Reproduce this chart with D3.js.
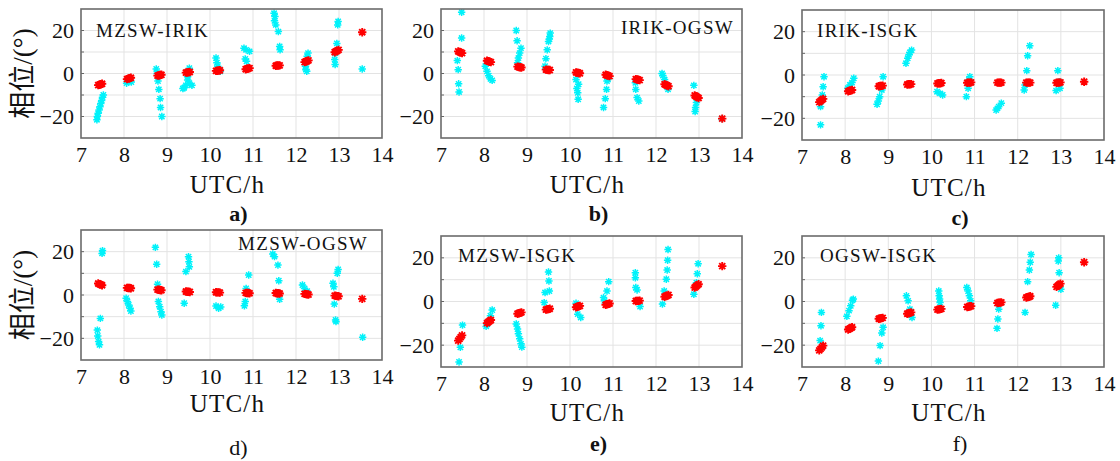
<!DOCTYPE html>
<html>
<head>
<meta charset="utf-8">
<script src="https://cdn.jsdelivr.net/npm/d3@7"></script>
<style>
  html, body { margin: 0; padding: 0; background: #fff; }
  svg { display: block; }
  .tick-label { font-family: "Liberation Serif", serif; font-size: 22px; fill: #111; }
  .axis-title { font-family: "Liberation Serif", serif; font-size: 25px; fill: #111; letter-spacing: 1.2px; }
  .y-title { font-family: "Liberation Serif", "Noto Sans CJK SC", serif; font-size: 27px; fill: #111; }
  .panel-name { font-family: "Liberation Serif", serif; font-size: 19px; fill: #111; letter-spacing: 1.3px; }
  .panel-tag { font-family: "Liberation Serif", serif; font-size: 22px; fill: #111; }
</style>
</head>
<body>
<svg id="chart" width="1120" height="461"></svg>
<script>
// 横轴刻度 / 纵轴刻度
const xTicks = [7, 8, 9, 10, 11, 12, 13, 14];
const yTicks = [-20, 0, 20];
const yGrid = [-30, -20, -10, 0, 10, 20, 30];

// 红色：每个时段的测量时间（六个子图共用）
const redTimes = [
    7.40, 7.43, 7.46, 7.49,
    8.07, 8.10, 8.13, 8.16,
    8.78, 8.81, 8.84, 8.87,
    9.44, 9.47, 9.50, 9.53,
    10.14, 10.17, 10.20, 10.23,
    10.83, 10.86, 10.89, 10.92,
    11.53, 11.56, 11.59, 11.62,
    12.20, 12.23, 12.26, 12.29,
    12.90, 12.93, 12.96, 12.99,
    13.54
];

// 红色相位值
const redA = [-5.4, -5.2, -5.0, -4.8, -2.6, -2.4, -2.2, -2.0, -1.0, -0.9, -0.7, -0.6, 0.4, 0.5, 0.6, 0.7,
    1.2, 1.3, 1.4, 1.5, 2.0, 2.2, 2.3, 2.5, 3.6, 3.7, 3.7, 3.8, 5.3, 5.6, 5.8, 6.1, 9.9, 10.3, 10.6, 11.0, 19.2];
const redB = [10.3, 10.0, 9.8, 9.5, 5.9, 5.7, 5.5, 5.3, 3.2, 3.0, 2.9, 2.8, 1.8, 1.7, 1.6, 1.6,
    0.5, 0.4, 0.2, 0.1, -0.6, -0.8, -1.0, -1.2, -2.6, -2.8, -2.9, -3.1, -5.0, -5.3, -5.6, -5.9, -10.2, -10.6, -11.0, -11.4, -21.0];
const redC = [-12.5, -12.0, -11.5, -11.0, -7.5, -7.3, -7.1, -6.9, -5.2, -5.1, -5.0, -4.9, -4.4, -4.3, -4.3, -4.2,
    -3.9, -3.8, -3.8, -3.7, -3.6, -3.5, -3.5, -3.4, -3.5, -3.5, -3.5, -3.5, -3.5, -3.5, -3.5, -3.5, -3.6, -3.5, -3.5, -3.4, -3.1];
const redD = [5.3, 5.0, 4.8, 4.5, 3.3, 3.2, 3.2, 3.1, 2.5, 2.4, 2.3, 2.2, 1.6, 1.5, 1.5, 1.4,
    1.3, 1.2, 1.2, 1.1, 1.0, 0.9, 0.9, 0.8, 0.9, 0.8, 0.8, 0.7, 0.5, 0.4, 0.3, 0.2, -0.3, -0.4, -0.5, -0.6, -1.8];
const redE = [-17.9, -17.1, -16.3, -15.5, -9.9, -9.4, -8.9, -8.5, -5.6, -5.4, -5.2, -5.0, -3.7, -3.6, -3.5, -3.3,
    -2.6, -2.4, -2.2, -2.0, -1.5, -1.3, -1.1, -0.9, 0.2, 0.3, 0.3, 0.4, 2.2, 2.5, 2.7, 3.0, 6.4, 6.9, 7.4, 7.9, 16.2];
const redF = [-22.4, -21.7, -21.0, -20.2, -12.8, -12.5, -12.1, -11.8, -7.9, -7.8, -7.6, -7.5, -5.6, -5.4, -5.2, -5.0,
    -3.7, -3.6, -3.5, -3.4, -2.5, -2.4, -2.2, -2.1, -0.7, -0.6, -0.5, -0.4, 1.8, 2.0, 2.2, 2.4, 6.7, 7.2, 7.7, 8.2, 18.0];

// 青色：[时间, 相位]
const cyanA = [
    [7.37, -21.5], [7.38, -20], [7.40, -18.5], [7.42, -17], [7.44, -15.5], [7.46, -14], [7.48, -12.5], [7.50, -11], [7.52, -10],
    [8.06, -4.5], [8.10, -3.8], [8.14, -3.2], [8.17, -4.0],
    [8.75, 2.1], [8.77, 0], [8.79, -3.5], [8.81, -7.4], [8.84, -11.7], [8.85, -15.8], [8.88, -20],
    [9.52, 2.5], [9.50, 1], [9.48, -1.5], [9.48, -3], [9.52, -4.5], [9.40, -6.6], [9.37, -7], [9.58, -5.5], [9.44, -5.5],
    [10.14, 7.2], [10.16, 5], [10.18, 3.4], [10.21, 1.8], [10.24, 1],
    [10.79, 11.8], [10.84, 11], [10.92, 10.3], [10.82, 6.8], [10.85, 5.7],
    [11.49, 28], [11.51, 26.5], [11.50, 24.5], [11.53, 22.6], [11.59, 19.5], [11.62, 12.6], [11.63, 11],
    [12.28, 9.5], [12.26, 8], [12.22, 3.4], [12.23, 1.8], [12.25, 1],
    [12.98, 24.2], [12.97, 22.6], [12.95, 14], [12.92, 9.5], [12.90, 6.5], [12.91, 4.2],
    [13.54, 2.1]
];
const cyanB = [
    [7.48, 28.5], [7.48, 16.5], [7.38, 6], [7.40, 1.8], [7.41, -4.8], [7.42, -8.6],
    [8.03, 3.4], [8.07, 1], [8.11, -1], [8.15, -2.5], [8.19, -3.2],
    [8.75, 20], [8.77, 15.2], [8.86, 11.8], [8.83, 9.5], [8.80, 7.2], [8.78, 5],
    [9.54, 18.8], [9.53, 17.2], [9.52, 16], [9.50, 14.9], [9.47, 11], [9.44, 6.9], [9.42, 3.4],
    [10.14, -2.8], [10.20, -5], [10.16, -7], [10.18, -9], [10.19, -12],
    [10.88, -2.8], [10.86, -3.5], [10.85, -7.4], [10.82, -11.7], [10.78, -15.8],
    [11.52, -4.3], [11.53, -7.4], [11.56, -11.2], [11.60, -12.8],
    [12.14, 0], [12.16, -0.9], [12.20, -2.8], [12.28, -7.4],
    [12.88, -5.5], [12.94, -13.5], [12.92, -15.8], [12.91, -17.7],
    [13.53, -21]
];
const cyanC = [
    [7.51, -0.8], [7.49, -5.4], [7.47, -9.2], [7.45, -11.5], [7.43, -14.6], [7.43, -23],
    [8.20, -1.5], [8.16, -3.5], [8.11, -4.6], [8.06, -6.1],
    [8.88, -0.8], [8.85, -6.9], [8.80, -10], [8.77, -12], [8.74, -13.5],
    [9.41, 5.4], [9.45, 7.7], [9.48, 9.4], [9.50, 10.4], [9.54, 11.5],
    [10.13, -7.7], [10.20, -8.5], [10.26, -9.2],
    [10.89, -0.8], [10.87, -2.3], [10.85, -6.1], [10.81, -10],
    [11.50, -16.2], [11.53, -15.4], [11.56, -14.6], [11.62, -13],
    [12.28, 13.5], [12.23, 8.9], [12.21, 2], [12.17, -4.6], [12.15, -6.9],
    [12.93, 2], [12.96, -3.1], [12.98, -6.1], [12.89, -7.2]
];
const cyanD = [
    [7.49, 19.2], [7.50, 20.5], [7.45, -10.8], [7.38, -16.2], [7.39, -18.9], [7.41, -21.5], [7.43, -23],
    [8.05, -1.5], [8.08, -3], [8.11, -4.6], [8.14, -6.1], [8.16, -7.4],
    [8.73, 22], [8.76, 14.2], [8.78, 5], [8.80, -3], [8.83, -5.4], [8.86, -7.7], [8.88, -9.2],
    [9.50, 17.7], [9.51, 15.4], [9.52, 13], [9.44, 10.8], [9.40, -3.8],
    [10.14, -5.1], [10.20, -6.1], [10.25, -5.5],
    [10.90, 9.2], [10.84, 3], [10.82, -3], [10.80, -5],
    [11.46, 18.9], [11.50, 17.7], [11.58, 13.8], [11.60, 6.6], [11.62, -2],
    [12.15, 4.6], [12.20, 3], [12.26, 1.8],
    [12.86, 5.4], [12.88, 3.8], [12.89, -4.2], [12.92, -11.5], [12.93, -12.3], [12.96, 10], [12.98, 11.8],
    [13.55, -19.5]
];
const cyanE = [
    [7.50, -10.8], [7.45, -21], [7.42, -27.7],
    [8.19, -3.9], [8.15, -6.5], [8.08, -10.3], [8.05, -11.4],
    [8.75, -10.3], [8.78, -12.6], [8.80, -14.8], [8.83, -17.1], [8.86, -19.4], [8.88, -20.9],
    [9.50, 13.5], [9.51, 9.4], [9.52, 4.8], [9.42, 4.1], [9.40, -0.5],
    [10.14, -0.8], [10.18, -5.8], [10.25, -7.3],
    [10.90, 9.1], [10.86, 4.8], [10.78, 1.8], [10.80, 0.3],
    [11.52, 13.2], [11.52, 10.9], [11.53, 6.4], [11.56, 5.3], [11.63, -2.3],
    [12.28, 23.8], [12.27, 18.9], [12.26, 14.4], [12.24, 10.2], [12.19, 4.8], [12.15, -1.2],
    [12.98, 17.3], [12.96, 12.7], [12.94, 8.6], [12.88, 3.3]
];
const cyanF = [
    [7.45, -5], [7.44, -11.1], [7.42, -17.9],
    [8.04, -6.8], [8.09, -4.2], [8.13, -2], [8.17, 0.6], [8.19, 1.1],
    [8.88, -11.8], [8.85, -14.4], [8.81, -20.2], [8.77, -27.3],
    [9.42, 2.6], [9.46, 0.3], [9.50, -3.5], [9.55, -7.3],
    [10.17, 4.8], [10.18, 2.6], [10.19, 1.1], [10.20, -0.5],
    [10.82, 6.4], [10.85, 4.8], [10.88, 2.6], [10.91, 0.3],
    [11.56, -3.5], [11.54, -8], [11.52, -12.3],
    [12.31, 21.5], [12.29, 18], [12.27, 14.4], [12.23, 9.1], [12.17, -5],
    [12.95, 20], [12.94, 18.5], [12.96, 13.2], [12.88, -1.7], [13.00, 5.6]
];

// 子图布局
const panels = [
    { name: 'MZSW-IRIK', tag: 'a)', bold: true, red: redA, cyan: cyanA, x: 81, y: 9, w: 301, h: 129, nameX: 15, nameY: 21, anchor: 'start', yLabel: true, titleY: 193, tagY: 221 },
    { name: 'IRIK-OGSW', tag: 'b)', bold: true, red: redB, cyan: cyanB, x: 441, y: 9, w: 301, h: 129, nameX: 293, nameY: 18, anchor: 'end', yLabel: false, titleY: 193, tagY: 221 },
    { name: 'IRIK-ISGK', tag: 'c)', bold: true, red: redC, cyan: cyanC, x: 802, y: 10, w: 302, h: 130, nameX: 15, nameY: 20, anchor: 'start', yLabel: false, titleY: 196, tagY: 225 },
    { name: 'MZSW-OGSW', tag: 'd)', bold: false, red: redD, cyan: cyanD, x: 81, y: 230, w: 301, h: 130, nameX: 287, nameY: 13, anchor: 'end', yLabel: true, titleY: 412, tagY: 455 },
    { name: 'MZSW-ISGK', tag: 'e)', bold: true, red: redE, cyan: cyanE, x: 441, y: 236, w: 301, h: 131, nameX: 17, nameY: 19, anchor: 'start', yLabel: false, titleY: 421, tagY: 451 },
    { name: 'OGSW-ISGK', tag: 'f)', bold: false, red: redF, cyan: cyanF, x: 802, y: 236, w: 302, h: 131, nameX: 18, nameY: 19, anchor: 'start', yLabel: false, titleY: 421, tagY: 451 }
];

const svg = d3.select('#chart');

// 星号标记
function asterisk(r) {
    const d = r * 0.72;
    return `M${-r},0H${r}M0,${-r}V${r}M${-d},${-d}L${d},${d}M${-d},${d}L${d},${-d}`;
}

function drawPanel(p) {
    const g = svg.append('g').attr('transform', `translate(${p.x},${p.y})`);
    const x = d3.scaleLinear().domain([7, 14]).range([0, p.w]);
    const y = d3.scaleLinear().domain([-30, 30]).range([p.h, 0]);

    // 网格
    g.append('g').selectAll('line.gx')
        .data(xTicks.slice(1, -1))
        .enter().append('line')
        .attr('x1', d => x(d)).attr('x2', d => x(d))
        .attr('y1', 0).attr('y2', p.h)
        .attr('stroke', '#e3e3e3').attr('stroke-width', 1);
    g.append('g').selectAll('line.gy')
        .data(yGrid.slice(1, -1))
        .enter().append('line')
        .attr('x1', 0).attr('x2', p.w)
        .attr('y1', d => y(d)).attr('y2', d => y(d))
        .attr('stroke', '#e3e3e3').attr('stroke-width', 1);

    // 数据点
    const clip = 'clip-' + p.tag[0];
    g.append('clipPath').attr('id', clip)
        .append('rect').attr('width', p.w).attr('height', p.h);
    const pts = g.append('g').attr('clip-path', `url(#${clip})`);

    pts.selectAll('path.cyan')
        .data(p.cyan)
        .enter().append('path')
        .attr('transform', d => `translate(${x(d[0])},${y(d[1])})`)
        .attr('d', asterisk(3.7))
        .attr('stroke', '#00f2fa').attr('stroke-width', 1.5).attr('fill', 'none');

    pts.selectAll('path.red')
        .data(p.red.map((v, i) => [redTimes[i], v]))
        .enter().append('path')
        .attr('transform', d => `translate(${x(d[0])},${y(d[1])})`)
        .attr('d', asterisk(4.2))
        .attr('stroke', '#ff0000').attr('stroke-width', 1.9).attr('fill', 'none');

    // 坐标轴
    const xAxis = d3.axisBottom(x).tickValues(xTicks).tickFormat(d3.format('d')).tickSize(0).tickPadding(8);
    const yAxis = d3.axisLeft(y).tickValues(yTicks).tickFormat(d => d < 0 ? '\u2212' + Math.abs(d) : d).tickSize(0).tickPadding(7);

    const xa = g.append('g').attr('transform', `translate(0,${p.h})`).call(xAxis);
    const ya = g.append('g').call(yAxis);
    [xa, ya].forEach(a => {
        a.select('.domain').remove();
        a.selectAll('text').attr('class', 'tick-label').attr('fill', null).attr('font-size', null).attr('font-family', null);
    });

    // 内刻度
    g.append('g').selectAll('line.ty')
        .data(yGrid.slice(1, -1))
        .enter().append('line')
        .attr('x1', 0).attr('x2', 3)
        .attr('y1', d => y(d)).attr('y2', d => y(d))
        .attr('stroke', '#666').attr('stroke-width', 1);

    // 外框
    g.append('rect')
        .attr('width', p.w).attr('height', p.h)
        .attr('fill', 'none').attr('stroke', '#6b6b6b').attr('stroke-width', 1.6);

    // 站点名
    g.append('text')
        .attr('class', 'panel-name')
        .attr('x', p.nameX).attr('y', p.nameY)
        .attr('text-anchor', p.anchor)
        .attr('dy', '0.35em')
        .text(p.name);

    // 横轴标题和编号
    svg.append('text')
        .attr('class', 'axis-title')
        .attr('x', p.x + p.w / 2 - 4).attr('y', p.titleY)
        .attr('text-anchor', 'middle')
        .text('UTC/h');
    svg.append('text')
        .attr('class', 'panel-tag')
        .attr('x', p.x + p.w / 2 + 7).attr('y', p.tagY)
        .attr('text-anchor', 'middle')
        .attr('font-weight', p.bold ? 'bold' : 'normal')
        .text(p.tag);

    if (p.yLabel) {
        svg.append('text')
            .attr('class', 'y-title')
            .attr('transform', `translate(${p.x - 58},${p.y + p.h / 2}) rotate(-90)`)
            .attr('text-anchor', 'middle')
            .attr('dy', '0.35em')
            .text('相位/(°)');
    }
}

panels.forEach(drawPanel);
</script>
</body>
</html>
